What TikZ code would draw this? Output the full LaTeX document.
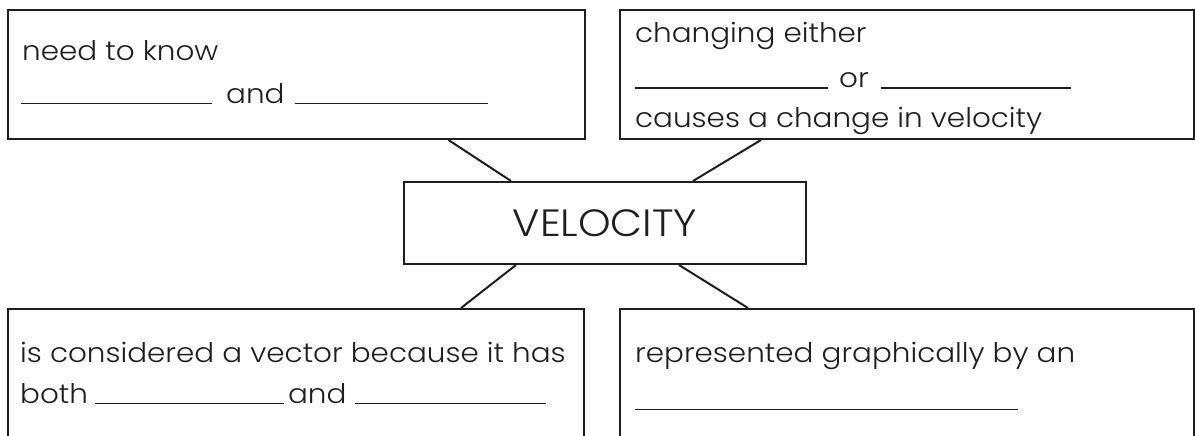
\documentclass[tikz,border=0pt]{standalone}
\usepackage{fontspec}
\setmainfont{Poppins}[UprightFont=* Light,FakeStretch=1.09]
\newcommand{\blank}[1]{\rule[-1pt]{#1pt}{1.5pt}}
\begin{document}
\begin{tikzpicture}[x=1pt,y=-1pt,
  box/.style={draw=black!88,line width=2pt,rectangle,inner sep=0pt,anchor=north west},
  txt/.style={anchor=base west,inner sep=0pt,text=black!88,font=\fontsize{27}{30}\selectfont},
  link/.style={draw=black!88,line width=2pt}]
\useasboundingbox (0,0) rectangle (1195,436);
\clip (0,0) rectangle (1195,436);

\node[box,minimum width=577pt,minimum height=129pt] (know) at (7,9) {};
\node[txt] (know1) at (22,61) {need to know};
\node[txt] (know2) at (21,103) {\blank{191}\hspace{14pt}and\hspace{10pt}\blank{193}};

\node[box,minimum width=574pt,minimum height=129pt] (change) at (619,9) {};
\node[txt] (change1) at (635,43) {changing either};
\node[txt] (change2) at (635,88) {\blank{193}\hspace{11pt}or\hspace{12pt}\blank{190}};
\node[txt] (change3) at (635,128) {causes a change in velocity};

\node[box,minimum width=402pt,minimum height=82pt,
  font=\fontsize{38}{42}\selectfont,text=black!88] (vel) at (403,181) {VELOCITY};

\node[box,minimum width=576pt,minimum height=160pt] (vector) at (7,308) {};
\node[txt] (vector1) at (20,362) {is considered a vector because it has};
\node[txt] (vector2) at (20,403) {both\hspace{7pt}\blank{189}\hspace{4pt}and\hspace{9pt}\blank{191}};

\node[box,minimum width=574pt,minimum height=160pt] (graph) at (619,308) {};
\node[txt] (graph1) at (635,362) {represented graphically by an};
\node[txt] (graph2) at (635,409) {\blank{383}};

\draw[link] ([xshift=152pt]know.south) -- ([xshift=-94pt]vel.north);
\draw[link] ([xshift=-146pt]change.south) -- ([xshift=88pt]vel.north);
\draw[link] ([xshift=-89pt]vel.south) -- ([xshift=165pt]vector.north);
\draw[link] ([xshift=74pt]vel.south) -- ([xshift=-159pt]graph.north);
\end{tikzpicture}
\end{document}
